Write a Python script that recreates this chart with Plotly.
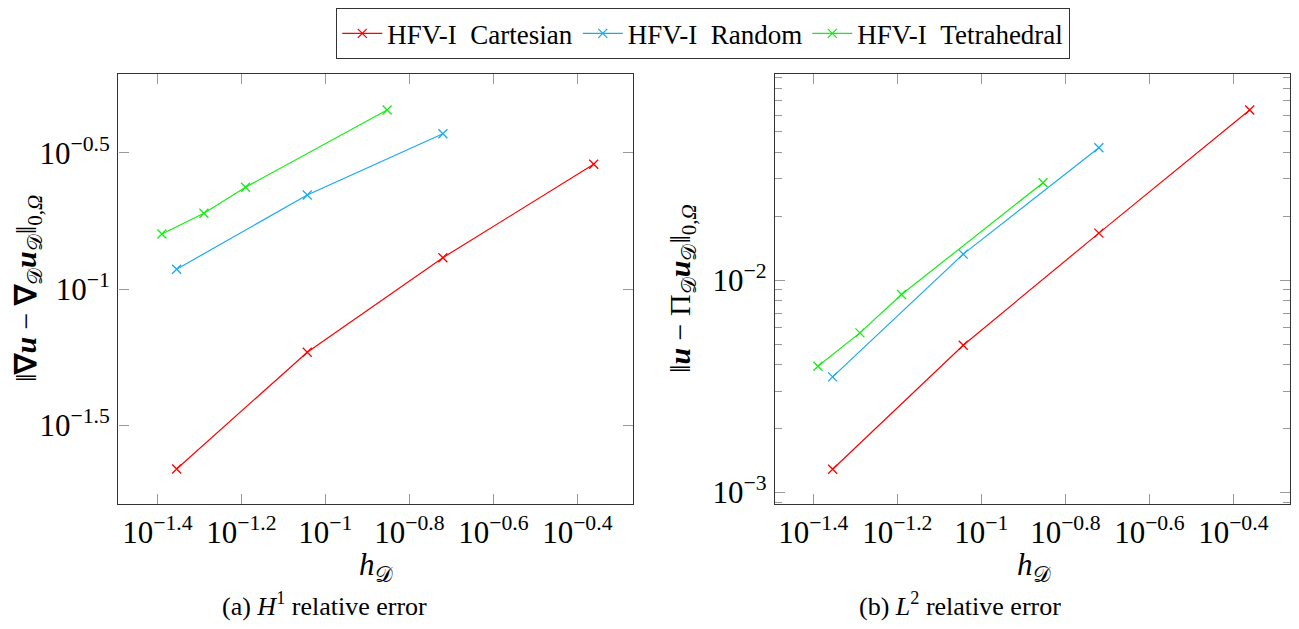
import plotly.graph_objects as go

# ---------------- data ----------------
series_names = ["HFV-I\u00a0\u00a0Cartesian", "HFV-I\u00a0\u00a0Random", "HFV-I\u00a0\u00a0Tetrahedral"]
series_colors = ["#ff0000", "#1aaaf0", "#14ee14"]

# mesh size h_D for each mesh family
h_cartesian = [0.04426, 0.09057, 0.1905, 0.4355]
h_random = [0.04426, 0.09057, 0.1905]
h_tetra = [0.04083, 0.0514, 0.06457, 0.1403]

# (a) H1 relative error
h1_cartesian = [0.02188, 0.05864, 0.1303, 0.2868]
h1_random = [0.1182, 0.2213, 0.3713]
h1_tetra = [0.1592, 0.1896, 0.2362, 0.4536]

# (b) L2 relative error
l2_cartesian = [0.001284, 0.004936, 0.01666, 0.06338]
l2_random = [0.003500, 0.01326, 0.04209]
l2_tetra = [0.003929, 0.005641, 0.008561, 0.02877]

# tick labels
x_tick_exps = [-1.4, -1.2, -1, -0.8, -0.6, -0.4]
x_tick_labels = ["10<sup>\u22121.4</sup>", "10<sup>\u22121.2</sup>", "10<sup>\u22121</sup>",
                 "10<sup>\u22120.8</sup>", "10<sup>\u22120.6</sup>", "10<sup>\u22120.4</sup>"]
y1_tick_exps = [-1.5, -1, -0.5]
y1_tick_labels = ["10<sup>\u22121.5</sup>", "10<sup>\u22121</sup>", "10<sup>\u22120.5</sup>"]
y2_tick_exps = [-3, -2]
y2_tick_labels = ["10<sup>\u22123</sup>", "10<sup>\u22122</sup>"]

# ---------------- figure ----------------
# the page body keeps its default 8px margin, so the figure fills the window minus 8px per side
PAGE_W, PAGE_H, BODY_M = 1299, 629, 8
W, H = PAGE_W - 2 * BODY_M, PAGE_H - 2 * BODY_M
FONT = "Liberation Serif"

fig = go.Figure()

h_sets = [h_cartesian, h_random, h_tetra]
h1_sets = [h1_cartesian, h1_random, h1_tetra]
l2_sets = [l2_cartesian, l2_random, l2_tetra]

for name, col, hx, ey in zip(series_names, series_colors, h_sets, h1_sets):
    fig.add_trace(go.Scatter(
        x=hx, y=ey, name=name, mode="lines+markers",
        line=dict(color=col, width=1.2),
        marker=dict(symbol="x-thin", size=9, color=col, line=dict(color=col, width=1.3)),
        xaxis="x", yaxis="y"))

for name, col, hx, ey in zip(series_names, series_colors, h_sets, l2_sets):
    fig.add_trace(go.Scatter(
        x=hx, y=ey, name=name, mode="lines+markers", showlegend=False,
        line=dict(color=col, width=1.2),
        marker=dict(symbol="x-thin", size=9, color=col, line=dict(color=col, width=1.3)),
        xaxis="x2", yaxis="y2"))


def px_x(p):
    return min(max((p - BODY_M) / W, 0.0), 1.0)


def px_y(p):
    return min(max(1 - (p - BODY_M) / H, 0.0), 1.0)


axis_common = dict(
    type="log", showline=True, linecolor="#333333", linewidth=1.4,
    mirror="ticks", ticks="inside", ticklen=10, tickwidth=1.3, tickcolor="#9a9a9a",
    showgrid=False, zeroline=False, tickmode="array", automargin=False,
    tickfont=dict(family=FONT, size=31, color="black"),
)

xt = [10 ** e for e in x_tick_exps]
minor_vals = [m * 10 ** d for d in (-4, -3, -2) for m in range(2, 10)]

fig.update_layout(
    template="none",
    width=W, height=H,
    margin=dict(l=0, r=0, t=0, b=0, autoexpand=False),
    paper_bgcolor="white", plot_bgcolor="white",
    font=dict(family=FONT, color="black"),
    xaxis=dict(axis_common, domain=[px_x(118.3), px_x(633.3)], range=[-1.4929, -0.2667],
               tickvals=xt, ticktext=x_tick_labels, anchor="y"),
    yaxis=dict(axis_common, domain=[px_y(504.3), px_y(74)], range=[-1.7895, -0.2114],
               tickvals=[10 ** e for e in y1_tick_exps], ticktext=y1_tick_labels, anchor="x",
               ticklabelstandoff=1),
    xaxis2=dict(axis_common, domain=[px_x(775), px_x(1290.3)], range=[-1.4912, -0.2643],
                tickvals=xt, ticktext=x_tick_labels, anchor="y2"),
    yaxis2=dict(axis_common, domain=[px_y(504.3), px_y(74)], range=[-3.0566, -1.0283],
                tickvals=[10 ** e for e in y2_tick_exps], ticktext=y2_tick_labels, anchor="x2",
                ticklabelstandoff=1,
                minor=dict(tickmode="array", tickvals=minor_vals, ticks="inside", ticklen=7,
                           tickwidth=1.2, tickcolor="#9a9a9a", showgrid=False)),
    legend=dict(orientation="h", x=px_x(703), xanchor="center", y=px_y(7), yanchor="top",
                bordercolor="#333333", borderwidth=1.3, bgcolor="white",
                font=dict(family=FONT, size=27, color="black"),
                itemwidth=40, tracegroupgap=0),
    showlegend=True,
)

D = "\U0001D49F"
annotations = [
    dict(text="\u2016<b>\u2207<i>u</i></b> \u2212 <b>\u2207</b><sub>" + D + "</sub><b><i>u</i></b><sub>" + D
              + "</sub>\u2016<sub>0,<i>\u03a9</i></sub>",
         x=px_x(28), y=px_y(289), textangle=-90, size=30),
    dict(text="\u2016<b><i>u</i></b> \u2212 \u03a0<sub>" + D + "</sub><b><i>u</i></b><sub>" + D
              + "</sub>\u2016<sub>0,<i>\u03a9</i></sub>",
         x=px_x(682), y=px_y(289), textangle=-90, size=30),
    dict(text="<i>h</i><sub>" + D + "</sub>", x=px_x(376), y=px_y(567), textangle=0, size=31),
    dict(text="<i>h</i><sub>" + D + "</sub>", x=px_x(1034), y=px_y(567), textangle=0, size=31),
    dict(text="(a) <i>H</i><sup>1</sup> relative error", x=px_x(324), y=px_y(604), textangle=0, size=26),
    dict(text="(b) <i>L</i><sup>2</sup> relative error", x=px_x(960), y=px_y(604), textangle=0, size=26),
]
for a in annotations:
    fig.add_annotation(text=a["text"], x=a["x"], y=a["y"], xref="paper", yref="paper",
                       xanchor="center", yanchor="middle", showarrow=False, textangle=a["textangle"],
                       font=dict(family=FONT, size=a["size"], color="black"))

fig.write_html("out.html")
